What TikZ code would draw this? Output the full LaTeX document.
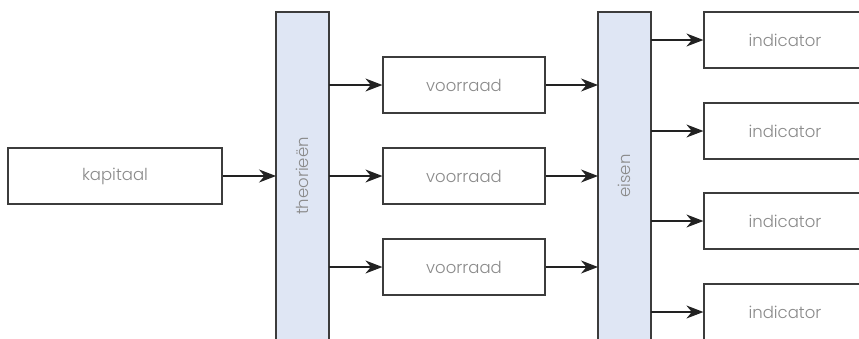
\documentclass[tikz,border=0pt]{standalone}
\usepackage{fontspec}
\setmainfont{Poppins}[UprightFont=* Light]
\usetikzlibrary{arrows.meta}
\definecolor{barfill}{HTML}{DFE6F4}
\definecolor{linec}{HTML}{3C3C3C}
\definecolor{arrc}{HTML}{222222}
\definecolor{textc}{HTML}{8A8A8A}
\begin{document}
\begin{tikzpicture}[x=1pt,y=-1pt,
  box/.style={draw=linec,line width=1.2pt,fill=white,minimum height=56pt,inner sep=0pt,
    text=textc,font=\fontsize{16.5}{18}\selectfont},
  bar/.style={draw=linec,line width=1.2pt,fill=barfill,inner sep=0pt},
  lbl/.style={text=textc,font=\fontsize{16.5}{18}\selectfont,rotate=90},
  arr/.style={draw=arrc,line width=1.2pt,-{Stealth[length=17pt,width=13pt,inset=5.5pt]}}]
\useasboundingbox (0,0) rectangle (859,338);
% bars
\path[bar] (276,12) rectangle (329,350);
\path[bar] (598,12) rectangle (651,350);
\coordinate (thW) at (276,176);
\coordinate (thE) at (329,176);
\coordinate (eiW) at (598,176);
\coordinate (eiE) at (651,176);
\node[lbl] (th) at (302.5,176) {theorieën};
\node[lbl] (ei) at (624.5,176) {eisen};
% boxes
\node[box,minimum width=214pt] (k) at (115,176) {kapitaal};
\node[box,minimum width=162pt] (v1) at (464,85) {voorraad};
\node[box,minimum width=162pt] (v2) at (464,176) {voorraad};
\node[box,minimum width=162pt] (v3) at (464,267) {voorraad};
\node[box,minimum width=162pt] (i1) at (785,40) {indicator};
\node[box,minimum width=162pt] (i2) at (785,131) {indicator};
\node[box,minimum width=162pt] (i3) at (785,221) {indicator};
\node[box,minimum width=162pt] (i4) at (785,312) {indicator};
% arrows
\draw[arr] (k.east) -- (thW);
\foreach \v in {v1,v2,v3}{
  \draw[arr] (thE |- \v.west) -- (\v.west);
  \draw[arr] (\v.east) -- (\v.east -| eiW);
}
\foreach \i in {i1,i2,i3,i4}{
  \draw[arr] (eiE |- \i.west) -- (\i.west);
}
\end{tikzpicture}
\end{document}
